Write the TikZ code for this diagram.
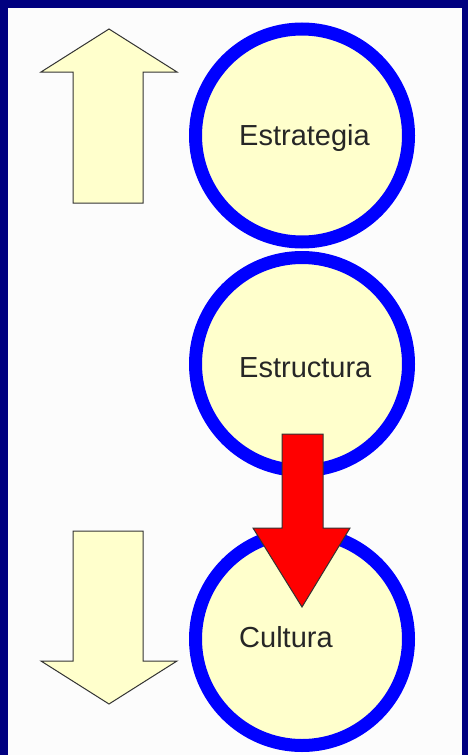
\documentclass[tikz,border=0pt]{standalone}
\usepackage{fontspec}
\setmainfont{Liberation Sans}
\definecolor{navy}{HTML}{000080}
\definecolor{cream}{HTML}{FFFFCC}
\definecolor{ringblue}{HTML}{0000FF}
\definecolor{arrowred}{HTML}{FF0000}
\definecolor{edge}{HTML}{333333}
\tikzset{
  ring/.style={circle, draw=ringblue, line width=13pt, fill=cream, minimum size=213pt, inner sep=0pt},
  lbl/.style={anchor=base west, inner sep=0pt, font=\fontsize{29}{32}\selectfont, text=black!85},
  blockarrow/.style={draw=edge, line width=1pt, line join=miter},
}
\begin{document}
\begin{tikzpicture}[x=1pt,y=-1pt]
\useasboundingbox (0,0) rectangle (468,755);
\fill[navy] (0,0) rectangle (468,755);
\fill[white!98!gray] (8,8) rectangle (462,755);
% circles
\node[ring] (estrategia) at (302,135.5) {};
\node[ring] (estructura) at (302,364) {};
\node[ring] (cultura) at (302,639) {};
\node[lbl] (t1) at (239,145) {Estrategia};
\node[lbl] (t2) at (239,377) {Estructura};
\node[lbl] (t3) at (239,647) {Cultura};
% up arrow
\draw[blockarrow, fill=cream] (73,203) -- (73,72) -- (41,72) -- (109,29) -- (177,72) -- (143,72) -- (143,203) -- cycle;
% down arrow
\draw[blockarrow, fill=cream] (73,531) -- (73,661) -- (41,661) -- (109,704) -- (177,661) -- (143,661) -- (143,531) -- cycle;
% red arrow
\draw[blockarrow, fill=arrowred] (282,434) -- (282,528) -- (253,528) -- (302,607) -- (350,528) -- (323,528) -- (323,434) -- cycle;
\end{tikzpicture}
\end{document}
